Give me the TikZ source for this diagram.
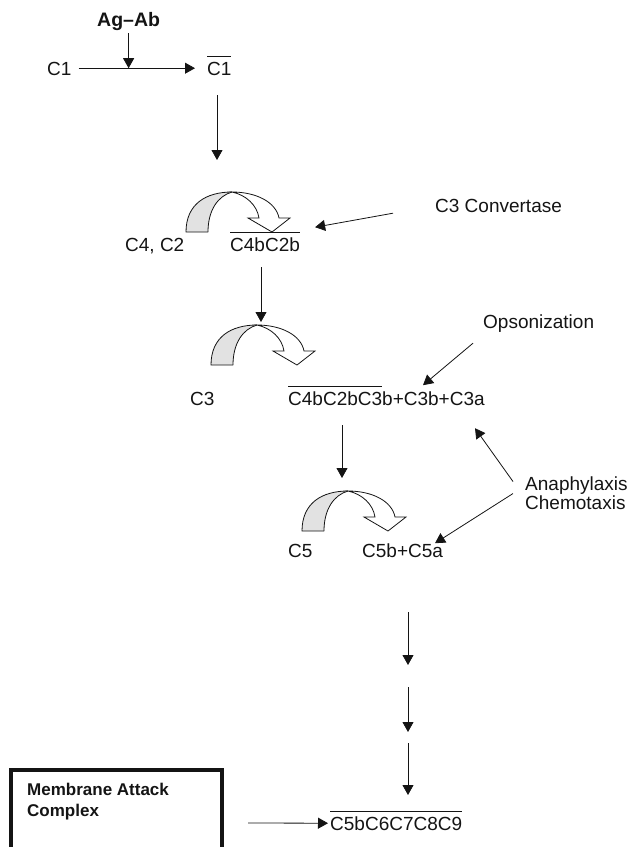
\documentclass[tikz,border=0pt]{standalone}
\usepackage{fontspec}
\setmainfont{Liberation Sans}
\usepackage{tikz}
\usetikzlibrary{arrows.meta,positioning}
\definecolor{ink}{RGB}{20,20,20}
\definecolor{band}{RGB}{226,226,226}
\newsavebox\ovlbox
\newcommand{\ovl}[1]{\sbox\ovlbox{#1}\rlap{\rule[18pt]{\wd\ovlbox}{0.8pt}}\usebox\ovlbox}
\tikzset{
  lbl/.style={inner sep=0pt,text height=13.6pt,text depth=0pt,anchor=base west,text=ink},
  arr/.style={-{Triangle[length=10pt,width=11pt]},line width=0.8pt,ink},
  rim/.style={line width=0.8pt,ink},
  macframe/.style={line width=4pt,ink},
  swingarrow/.pic={
    \fill[band] (0,0) .. controls (0,-28) and (20,-40) .. (46,-40)
      .. controls (32,-36) and (22,-22) .. (22,0) -- cycle;
    \draw[rim] (22,0) .. controls (22,-22) and (32,-36) .. (46,-40);
    \draw[rim,fill=white] (46,-40) .. controls (70,-40) and (90,-30) .. (93,-14)
      -- (104,-14) -- (86,0) -- (62,-14) -- (73,-14)
      .. controls (71,-27) and (60,-37) .. (46,-40) -- cycle;
    \draw[rim] (22,0) -- (0,0) .. controls (0,-28) and (20,-40) .. (46,-40);
  },
}

\begin{document}
\begin{tikzpicture}[x=1pt,y=-1pt,font=\fontsize{19}{21}\selectfont]
\useasboundingbox (0,0) rectangle (636,847);
\clip (0,0) rectangle (636,847);

% ---- C1 activation ----
\node[lbl,font=\fontsize{19.5}{21}\selectfont\bfseries] (agab) at (97,26) {Ag--Ab};
\node[lbl] (c1) at (47,75) {C1};
\node[lbl] (c1b) at (207,75) {\ovl{C1}};
\draw[arr] ([xshift=7pt]c1.east) -- ([xshift=-12pt]c1.east -| c1b.west);
\draw[arr] ([yshift=-7pt]agab.south) -- (agab.south |- c1.east);
\coordinate (k1) at (217,160);
\draw[arr] ([yshift=-20pt]c1b.south -| k1) -- (k1);

% ---- C4, C2 ----
\pic at (186,232) {swingarrow};
\node[lbl] (cfour) at (125,251) {C4, C2};
\node[lbl] (cfourtwo) at (230,251) {\ovl{C4bC2b}};
\node[lbl] (conv) at (435,212) {C3 Convertase};
\draw[arr] ([xshift=-42pt,yshift=-8pt]conv.west) -- ([xshift=15pt,yshift=17pt]cfourtwo.east);
\coordinate (k2) at (261,322);
\draw[arr] ([yshift=-16pt]cfourtwo.south -| k2) -- (k2);

% ---- C3 ----
\pic at (211,365) {swingarrow};
\node[lbl] (cthree) at (190,405) {C3};
\node[lbl] (cthreeb) at (288,405) {\ovl{C4bC2bC3}b+C3b+C3a};
\node[lbl] (opso) at (483,328) {Opsonization};
\draw[arr] ([xshift=-10pt,yshift=-22pt]opso.west) -- ([xshift=135pt,yshift=13pt]cthreeb.west);
\coordinate (k3) at (342,478);
\draw[arr] ([yshift=-20pt]cthreeb.south -| k3) -- (k3);

% ---- C5 ----
\pic at (302,531) {swingarrow};
\node[lbl] (cfive) at (288,557) {C5};
\node[lbl] (cfiveb) at (362,557) {C5b+C5a};
\node[inner sep=0pt,anchor=north west,align=left,text=ink,
  font=\fontsize{19}{16.5}\selectfont] (ana) at (525,477) {Anaphylaxis\\Chemotaxis};
\draw[arr] ([xshift=-12pt,yshift=12pt]ana.west) -- ([xshift=187pt,yshift=-30pt]cthreeb.west);
\draw[arr] ([xshift=-12pt]ana.west) -- ([xshift=73pt,yshift=7pt]cfiveb.west);

% ---- terminal steps ----
\foreach \i/\a/\b in {1/612/665,2/687/732,3/743/795}{
  \coordinate (t\i) at (408,\a);
  \coordinate (h\i) at (408,\b);
  \draw[arr] (t\i) -- (h\i);
}
\node[lbl] (cmac) at (330,830) {\ovl{C5bC6C7C8C9}};
\draw[macframe] (11,770) rectangle (222,880);
\node[inner sep=0pt,anchor=north west,align=left,text=ink,
  font=\fontsize{17}{21}\selectfont\bfseries] (mac) at (27,783) {Membrane Attack\\Complex};
\coordinate (mstart) at (248,823);
\draw[arr] (mstart) -- ([xshift=-2pt]cmac.west);
\end{tikzpicture}
\end{document}
